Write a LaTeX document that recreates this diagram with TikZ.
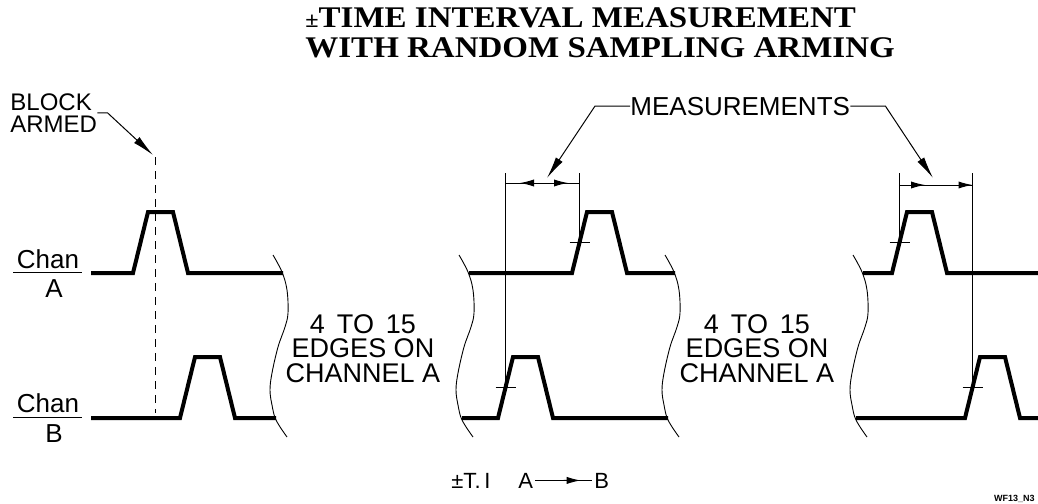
\documentclass[tikz,border=0pt]{standalone}
\usepackage{fontspec}
\setsansfont{Liberation Sans}
\newfontfamily\titlefont[FakeStretch=1.1]{Liberation Serif}
\usetikzlibrary{arrows.meta,calc}

% one pulse: rise, top, fall (pixel units, y down)
\newcommand{\pulseup}{-- ++(15,-61) -- ++(25,0) -- ++(15,61)}

\begin{document}
\begin{tikzpicture}[
    x=0.5pt, y=-0.5pt,
    line cap=butt, line join=miter,
    wave/.style={line width=2pt},
    hair/.style={line width=0.5pt},
    dimtip/.style={line width=0.5pt, -{Latex[length=7pt,width=3.6pt]}},
    leader/.style={line width=0.5pt, -{Latex[length=11pt,width=4pt]}},
    lbl/.style={font=\sffamily\fontsize{13}{13}\selectfont, inner sep=0pt},
    chanlbl/.style={lbl, anchor=base},
    edges/.style={font=\sffamily\fontsize{13.5}{12.25}\selectfont, inner sep=0pt,
        align=center, anchor=north},
    titletxt/.style={font=\titlefont\bfseries\fontsize{15}{15}\selectfont,
        inner sep=0pt, anchor=base west},
    tilbl/.style={font=\sffamily\fontsize{11}{11}\selectfont, inner sep=1pt,
        anchor=base west},
    brk/.pic={\draw[line width=0.45pt] plot[smooth, tension=0.6] coordinates
        {(0,0) (9,17) (14,35) (15,58) (12,72) (5,92) (-1,118) (-3,135)
         (-1,150) (3,165) (14,182)};},
]
\useasboundingbox (0,0) rectangle (1038,503);

% --- Title ---
\node[titletxt] (title1) at (305,27) {{\fontsize{11}{11}\selectfont ±}TIME INTERVAL MEASUREMENT};
\node[titletxt] (title2) at (305,57) {WITH RANDOM SAMPLING ARMING};

% --- Channel labels ---
\node[chanlbl] (chanA) at (48,268) {Chan};
\draw[hair] (13,272) -- (82,272);
\node[chanlbl] (chanAsub) at (54,297) {A};
\node[chanlbl] (chanB) at (48,412) {Chan};
\draw[hair] (13,417) -- (82,417);
\node[chanlbl] (chanBsub) at (54,442) {B};

% --- Channel A waveform ---
\draw[wave] (91,273) -- (133,273) \pulseup -- (283,273);
\draw[wave] (469,273) -- (572,273) \pulseup -- (675,273);
\draw[wave] (863,273) -- (892,273) \pulseup -- (1038,273);

% --- Channel B waveform ---
\draw[wave] (91,418) -- (180,418) \pulseup -- (276,418);
\draw[wave] (462,418) -- (498,418) \pulseup -- (668,418);
\draw[wave] (856,418) -- (965,418) \pulseup -- (1038,418);

% --- Breaks in time axis ---
\pic at (273,255) {brk};
\pic at (459,255) {brk};
\pic at (665,255) {brk};
\pic at (853,255) {brk};

\node[edges] (gap1) at (363,314) {4 \,TO \,15\\EDGES ON\\CHANNEL A};
\node[edges] (gap2) at (757,314) {4 \,TO \,15\\EDGES ON\\CHANNEL A};

% --- Block armed marker ---
\node[lbl, font=\sffamily\fontsize{12}{11}\selectfont, align=left,
    anchor=north west] (armed) at (10,93) {BLOCK\\ARMED};
\coordinate (armtip) at (153,155);
\draw[leader] (armed.east) -- ++(10,0) -- (armtip);
\draw[hair, dash pattern=on 4pt off 3pt] (155,157) -- (155,413);

% --- Edge crossing points (mid of rising edges) ---
\coordinate (eA2) at (579.5,242.5);
\coordinate (eB2) at (505.5,387.5);
\coordinate (eA3) at (899.5,242.5);
\coordinate (eB3) at (972.5,387.5);
\draw[hair] ($(eA2)+(-10,0)$) -- ++(20,0);
\draw[hair] ($(eB2)+(-10,0)$) -- ++(20,0);
\draw[hair] ($(eA3)+(-10,0)$) -- ++(20,0);
\draw[hair] ($(eB3)+(-10,0)$) -- ++(20,0);

% first measurement (B before A)
\draw[hair] (505.5,173) -- (eB2);
\draw[hair] (579.5,173) -- (eA2);
\draw[hair] (505.5,183) -- (579.5,183);
\draw[dimtip] (534,183) -- (520,183);
\draw[dimtip] (554,183) -- (568,183);

% second measurement (A before B)
\draw[hair] (899.5,173) -- (eA3);
\draw[hair] (972.5,173) -- (eB3);
\draw[hair] (899.5,185) -- (972.5,185);
\draw[dimtip] (905,185) -- (925,185);
\draw[dimtip] (950,185) -- (972.5,185);

% --- Measurements label ---
\node[lbl, anchor=base west] (meas) at (630,115) {MEASUREMENTS};
\coordinate (mtipL) at (547,178);
\coordinate (mtipR) at (933,178);
\draw[leader] (meas.west) -- ++(-35,0) -- (mtipL);
\draw[leader] (meas.east) -- ++(35,0) -- (mtipR);

% --- Time interval legend ---
\node[tilbl] (tiPM) at (449,488) {±T.\,I};
\node[tilbl] (tiA) at (516,488) {A};
\node[tilbl] (tiB) at (592,488) {B};
\draw[hair] (tiA.east) -- (tiB.west);
\draw[dimtip] ($(tiA.east)!0.5!(tiB.west)$) -- ($(tiA.east)!0.8!(tiB.west)$);

\node[font=\sffamily\bfseries\fontsize{4.5}{5}\selectfont, inner sep=0pt,
    anchor=base east] (tag) at (1035,501) {WF13\_N3};

\end{tikzpicture}
\end{document}
